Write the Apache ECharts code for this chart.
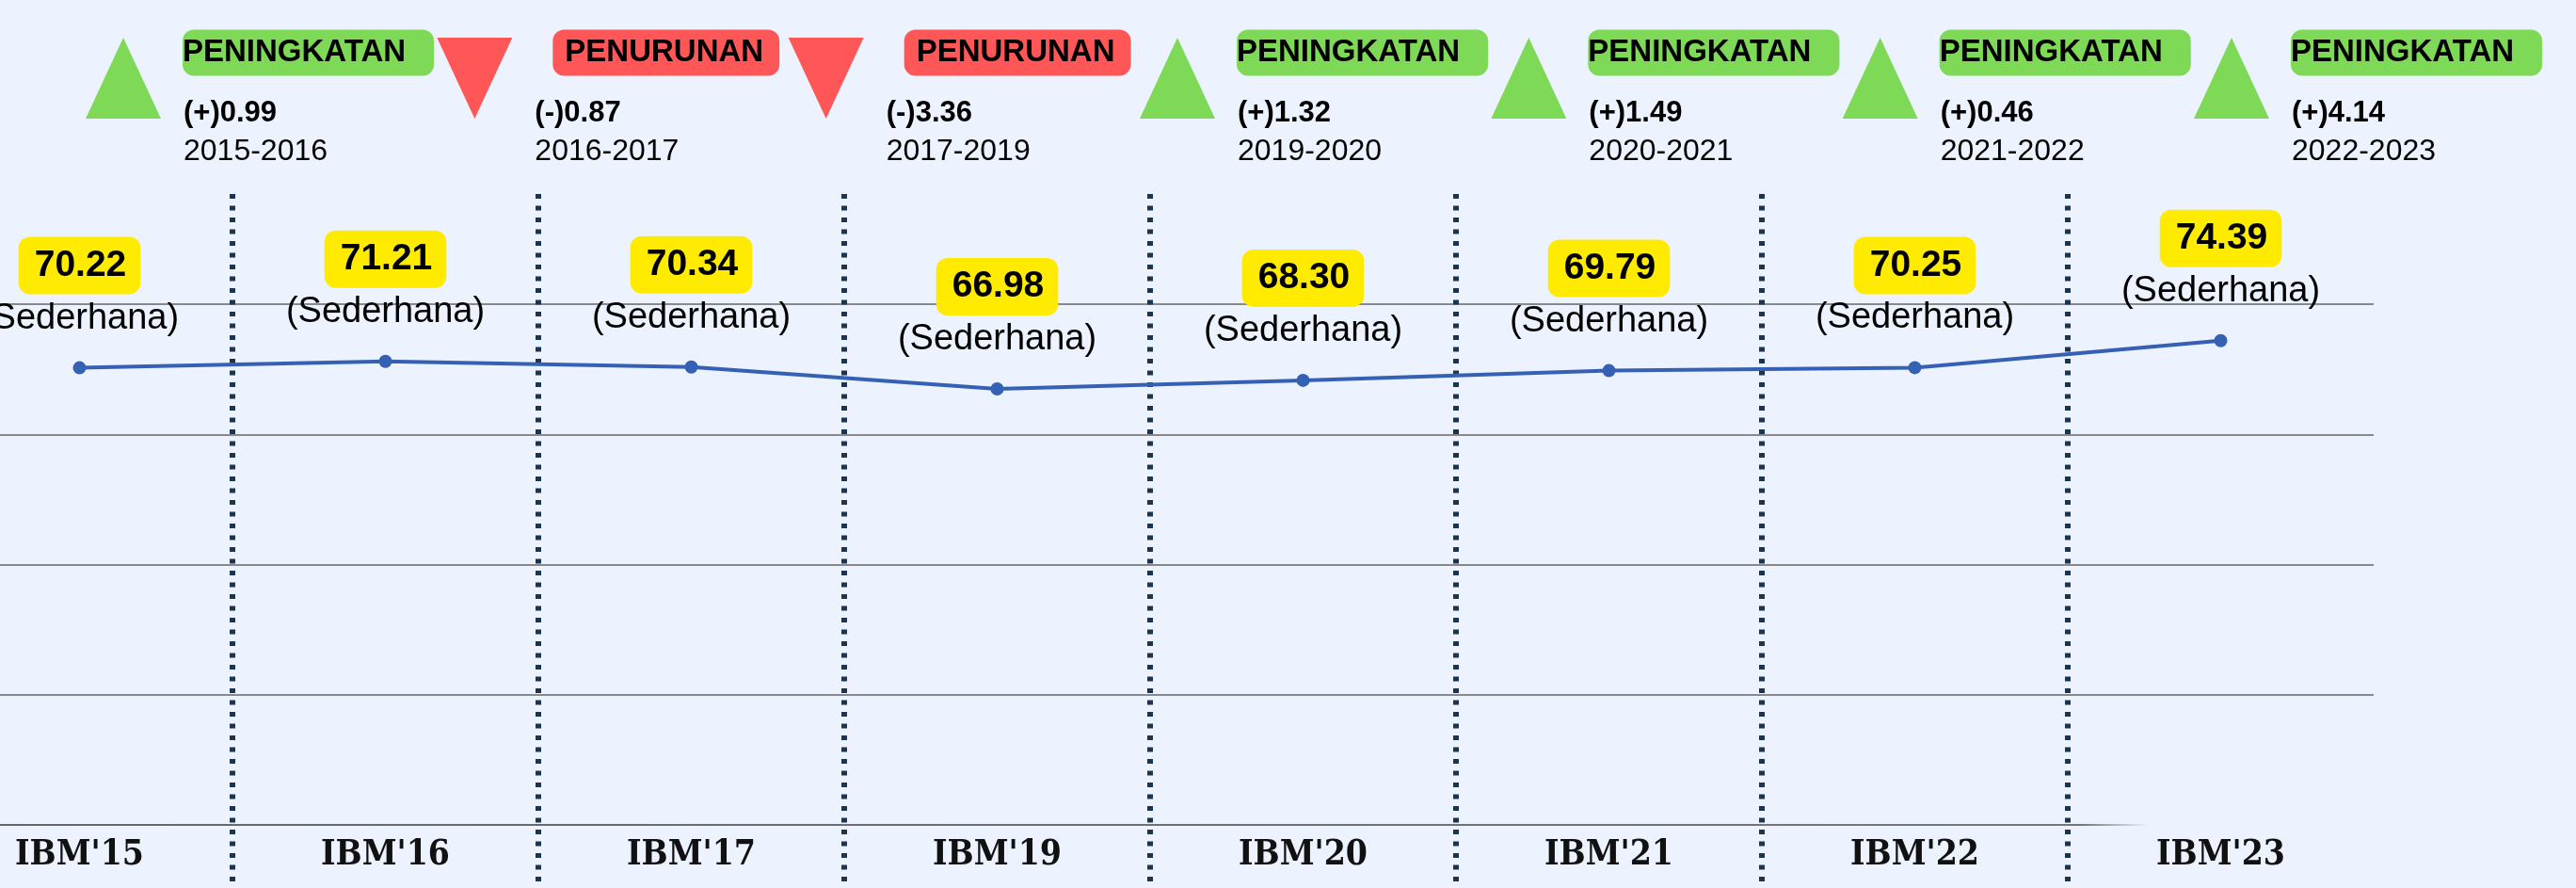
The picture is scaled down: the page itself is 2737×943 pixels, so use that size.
<!DOCTYPE html>
<html>
<head>
<meta charset="utf-8">
<script src="https://cdn.jsdelivr.net/npm/echarts@6/dist/echarts.min.js"></script>
<style>
  html, body { margin: 0; padding: 0; background: #ecf2fe; }
  #chart { width: 2737px; height: 943px; }
</style>
</head>
<body>
<div id="chart"></div>
<script>
// nilai IBM per tahun
const tahun = ["IBM'15", "IBM'16", "IBM'17", "IBM'19", "IBM'20", "IBM'21", "IBM'22", "IBM'23"]
const nilaiIBM = [70.22, 71.21, 70.34, 66.98, 68.30, 69.79, 70.25, 74.39]
const kategori = ['Sederhana', 'Sederhana', 'Sederhana', 'Sederhana', 'Sederhana', 'Sederhana', 'Sederhana', 'Sederhana']

// perubahan antar periode (header)
const periode = ['2015-2016', '2016-2017', '2017-2019', '2019-2020', '2020-2021', '2021-2022', '2022-2023']
const perubahan = [0.99, -0.87, -3.36, 1.32, 1.49, 0.46, 4.14]

const yTicks = [0, 20, 40, 60, 80]

const GREEN = '#7ed957'
const RED = '#ff5757'
const FONT = "'Liberation Sans', Arial, sans-serif"

let chart = echarts.init(document.getElementById('chart'))

function renderHeader(params, api) {
  const i = params.dataIndex
  const d = perubahan[i]
  const up = d >= 0
  const pt = api.coord([api.value(0), 0])
  const cx = pt[0]
  const cy = pt[1]
  const tri = up
    ? [[cx, cy - 43], [cx - 40, cy + 43], [cx + 40, cy + 43]]
    : [[cx - 40, cy - 43], [cx + 40, cy - 43], [cx, cy + 43]]
  return {
    type: 'group',
    children: [
      {
        type: 'polygon',
        shape: { points: tri },
        style: { fill: up ? GREEN : RED }
      },
      {
        type: 'text',
        x: cx + (up ? 63 : 83),
        y: cy - 27,
        style: {
          text: up ? 'PENINGKATAN' : 'PENURUNAN',
          font: 'bold 33px ' + FONT,
          fill: '#000',
          backgroundColor: up ? GREEN : RED,
          padding: up ? [9, 30, 7, 0] : [9, 17, 7, 13],
          borderRadius: 12,
          align: 'left', verticalAlign: 'middle',
          textAlign: 'left', textVerticalAlign: 'middle'
        }
      },
      {
        type: 'text',
        x: cx + 64,
        y: cy + 37,
        style: {
          text: (up ? '(+)' : '(-)') + Math.abs(d).toFixed(2),
          font: 'bold 31px ' + FONT,
          fill: '#000',
          align: 'left', verticalAlign: 'middle',
          textAlign: 'left', textVerticalAlign: 'middle'
        }
      },
      {
        type: 'text',
        x: cx + 64,
        y: cy + 78,
        style: {
          text: periode[i],
          font: '32px ' + FONT,
          fill: '#000',
          align: 'left', verticalAlign: 'middle',
          textAlign: 'left', textVerticalAlign: 'middle'
        }
      }
    ]
  }
}

chart.setOption({
  backgroundColor: '#ecf2fe',
  animation: false,
  grid: [
    { left: -78, width: 2600, top: 323, bottom: 67, outerBoundsMode: 'none', containLabel: false },
    { left: -78, width: 2600, top: 206, bottom: 0, outerBoundsMode: 'none', containLabel: false },
    { left: 131, right: 366, top: 0, height: 166, outerBoundsMode: 'none', containLabel: false }
  ],
  xAxis: [
    {
      gridIndex: 0,
      type: 'category',
      data: tahun,
      boundaryGap: true,
      axisTick: { show: false },
      axisLine: {
        show: true,
        lineStyle: {
          width: 2,
          color: new echarts.graphic.LinearGradient(0, 0, 1, 0, [
            { offset: 0, color: '#666' },
            { offset: 0.88, color: '#777' },
            { offset: 0.907, color: 'rgba(120,120,120,0)' },
            { offset: 1, color: 'rgba(120,120,120,0)' }
          ])
        }
      },
      axisLabel: {
        margin: 14,
        fontSize: 37,
        fontWeight: 'bold',
        fontFamily: "'DejaVu Serif Condensed', 'DejaVu Serif', serif",
        color: '#111'
      }
    },
    {
      gridIndex: 1,
      type: 'category',
      data: tahun,
      boundaryGap: true,
      axisLine: { show: false },
      axisTick: { show: false },
      axisLabel: { show: false },
      splitLine: {
        show: true,
        showMinLine: false,
        showMaxLine: false,
        lineStyle: { color: '#1b3551', width: 6, type: [5, 7.5] }
      }
    },
    {
      gridIndex: 2,
      type: 'category',
      data: periode,
      boundaryGap: false,
      show: false
    }
  ],
  yAxis: [
    {
      gridIndex: 0,
      type: 'value',
      min: yTicks[0],
      max: yTicks[yTicks.length - 1],
      interval: yTicks[1] - yTicks[0],
      axisLine: { show: false },
      axisTick: { show: false },
      axisLabel: { show: false },
      splitLine: {
        showMinLine: false,
        lineStyle: { color: '#666', width: 1.5 }
      }
    },
    { gridIndex: 1, type: 'value', show: false, splitLine: { show: false } },
    { gridIndex: 2, type: 'value', min: -1, max: 1, show: false }
  ],
  series: [
    {
      type: 'line',
      xAxisIndex: 0,
      yAxisIndex: 0,
      data: nilaiIBM,
      symbol: 'circle',
      symbolSize: 14,
      z: 5,
      lineStyle: { color: '#3561b5', width: 4 },
      itemStyle: { color: '#3561b5' },
      label: {
        show: true,
        position: 'top',
        distance: 9,
        formatter: p => '{v|' + p.value.toFixed(2) + '}\n{s|(' + kategori[p.dataIndex] + ')}',
        rich: {
          v: {
            backgroundColor: '#ffeb00',
            borderRadius: 12,
            padding: [11, 15, 11, 17],
            fontSize: 39,
            lineHeight: 39,
            fontWeight: 'bold',
            fontFamily: FONT,
            color: '#000'
          },
          s: {
            fontSize: 38,
            lineHeight: 73,
            fontFamily: FONT,
            color: '#000'
          }
        }
      }
    },
    {
      type: 'custom',
      xAxisIndex: 2,
      yAxisIndex: 2,
      data: periode.map(p => [p, 0]),
      renderItem: renderHeader,
      silent: true
    }
  ]
})
</script>
</body>
</html>
